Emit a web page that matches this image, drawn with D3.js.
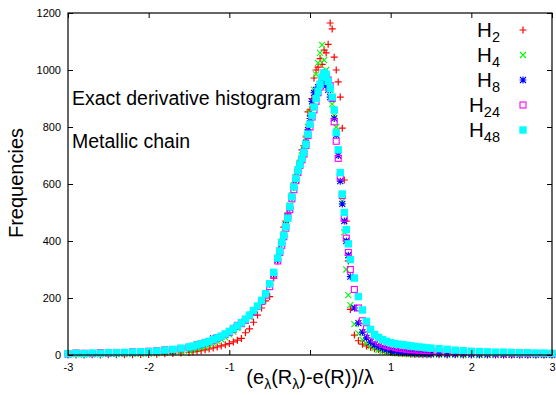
<!DOCTYPE html>
<html><head><meta charset="utf-8">
<script src="https://cdn.jsdelivr.net/npm/d3@7"></script>
<style>body{margin:0;background:#fff}svg{display:block}</style>
</head><body>
<svg id="c" width="556" height="395"></svg>
<script>
// bin centres (x values) shared by all series
const binCenters = [-3.0,-2.9,-2.8,-2.7,-2.6,-2.5,-2.4,-2.3,-2.2,-2.1,-2.0,-1.9,-1.8,-1.7,-1.6,
 -1.5,-1.45,-1.4,-1.35,-1.3,-1.25,-1.2,-1.15,-1.1,-1.05,-1.0,-0.95,-0.9,-0.85,-0.8,-0.75,-0.7,-0.65,-0.6,-0.55,-0.5,-0.45,
 -0.4,-0.375,-0.35,-0.325,-0.3,-0.275,-0.25,-0.225,-0.2,-0.175,-0.15,-0.125,-0.1,-0.075,-0.05,-0.025,0,0.025,0.05,0.075,0.1,0.125,0.15,0.175,0.2,0.225,0.25,0.275,0.3,0.325,0.35,0.375,0.4,0.425,0.45,0.475,0.5,
 0.55,0.6,0.65,0.7,0.75,0.8,0.85,0.9,0.95,1.0,1.05,1.1,1.15,1.2,1.25,1.3,1.35,1.4,1.45,1.5,
 1.6,1.7,1.8,1.9,2.0,2.1,2.2,2.3,2.4,2.5,2.6,2.7,2.8,2.9,3.0];

const freqH2 = [0,0,0,1,0,1,1,1,1,2,2,3,4,5,7,
 9,11,13,15,18,21,25,28,32,36,40,46,52,58,78,92,115,140,165,190,205,270,
 330,370,400,449,470,498,520,560,600,630,650,680,720,735,765,853,860,900,972,1000,1010,1040,1020,1070,1060,1090,1165,1144,1045,1000,958,905,796,614,470,330,160,
 70,50,38,32,27,22,19,17,13,10,8,6,5,4,3,2,2,1,1,1,
 1,0,1,0,0,0,0,0,0,0,0,0,0,0,0];

const freqH4 = [1,2,1,2,2,3,3,3,4,4,5,6,8,10,12,
 15,18,22,26,30,35,42,48,55,62,72,82,95,108,120,135,150,170,192,218,252,290,
 338,368,398,425,458,490,525,560,595,625,652,675,700,725,760,800,850,880,930,985,1025,1060,1088,1035,1000,960,930,880,840,800,720,640,540,430,300,210,175,
 108,76,53,40,30,24,18,14,11,9,7,6,5,4,3,3,2,2,2,1,
 1,1,1,0,1,0,0,0,0,0,0,0,0,0,0];

const freqH8 = [3,5,4,6,5,7,6,8,7,9,10,12,14,17,21,
 25,28,32,36,41,46,58,57,64,72,82,95,100,115,125,140,152,170,190,215,248,285,
 335,362,392,418,455,484,515,552,588,615,645,670,688,715,745,790,830,890,920,930,940,950,960,955,945,930,905,900,830,772,700,610,530,470,400,350,275,
 165,112,80,60,45,36,29,23,19,15,13,11,9,8,7,6,6,5,5,4,
 4,3,3,3,2,2,2,2,1,1,1,1,1,1,1];

const freqH24 = [4,7,6,5,8,7,9,8,11,10,13,15,18,19,23,
 27,30,36,38,44,47,52,61,65,72,80,90,104,110,122,138,150,170,188,210,240,280,
 330,360,385,415,445,485,510,548,580,612,640,665,685,705,735,770,800,835,860,890,920,940,960,990,975,965,945,900,818,750,690,625,560,480,410,360,300,
 230,165,120,92,70,55,45,38,33,29,27,24,22,20,19,18,17,16,15,14,
 13,12,11,10,9,9,8,7,7,6,6,5,5,5,4];

const freqH48 = [5,6,5,7,6,8,8,9,10,11,12,14,17,20,24,
 28,31,35,39,43,48,54,60,66,74,83,92,102,113,126,140,156,172,192,215,250,290,
 340,365,395,420,450,480,520,555,590,620,648,668,690,712,740,775,810,840,870,900,925,950,975,990,985,960,935,905,860,780,720,640,565,500,440,390,335,
 270,205,158,118,90,72,62,54,48,43,40,38,36,34,32,30,28,27,25,24,
 22,20,17,15,13,12,11,10,10,9,8,8,7,7,6];

const seriesSubs = ["2","4","8","24","48"];
const xTicks = [-3,-2,-1,0,1,2,3];
const xTickLabels = ["-3","-2","-1","","1","2","3"];
const yTicks = [0,200,400,600,800,1000,1200];

const series = [
  {sub: seriesSubs[0], vals: freqH2, color: "#ff0000", type: "plus"},
  {sub: seriesSubs[1], vals: freqH4, color: "#00ff00", type: "cross"},
  {sub: seriesSubs[2], vals: freqH8, color: "#0000ff", type: "star"},
  {sub: seriesSubs[3], vals: freqH24, color: "#ff00ff", type: "osq"},
  {sub: seriesSubs[4], vals: freqH48, color: "#00ffff", type: "fsq"}
];

const svg = d3.select("#c");
const L = 68, R = 552, T = 13, B = 355;
const x = d3.scaleLinear().domain([-3,3]).range([L,R]);
const y = d3.scaleLinear().domain([0,1200]).range([B,T]);
const font = "Liberation Sans, Arial, Helvetica, sans-serif";

function marker(g, type, color) {
  if (type === "plus") {
    g.append("path").attr("d","M-3.5,0H3.5M0,-3.5V3.5").attr("stroke",color).attr("stroke-width",1.2).attr("fill","none");
  } else if (type === "cross") {
    g.append("path").attr("d","M-3,-3L3,3M-3,3L3,-3").attr("stroke",color).attr("stroke-width",1.1).attr("fill","none");
  } else if (type === "star") {
    g.append("path").attr("d","M-3.5,0H3.5M0,-3.5V3.5M-3,-3L3,3M-3,3L3,-3").attr("stroke",color).attr("stroke-width",1.1).attr("fill","none");
  } else if (type === "osq") {
    g.append("rect").attr("x",-3).attr("y",-3).attr("width",6).attr("height",6).attr("stroke",color).attr("stroke-width",1.1).attr("fill","none");
  } else {
    g.append("rect").attr("x",-3.7).attr("y",-3.7).attr("width",7.4).attr("height",7.4).attr("fill",color);
  }
}

// data points
series.forEach(s => {
  const g = svg.append("g");
  binCenters.forEach((bx, i) => {
    const p = g.append("g").attr("transform", `translate(${x(bx)},${y(s.vals[i])})`);
    marker(p, s.type, s.color);
  });
});

// frame
svg.append("rect").attr("x",L).attr("y",T).attr("width",R-L).attr("height",B-T)
  .attr("fill","none").attr("stroke","#000").attr("stroke-width",1.2);

// axes (ticks inward, mirrored)
const styleAxis = g => { g.select(".domain").remove(); g.selectAll("line").attr("stroke","#000"); g.selectAll("text").attr("font-family",font).attr("font-size",11).attr("fill","#000"); };
svg.append("g").attr("transform",`translate(0,${B})`)
  .call(d3.axisBottom(x).tickValues(xTicks).tickSize(-5).tickPadding(8).tickFormat((d,i) => xTickLabels[i])).call(styleAxis);
svg.append("g").attr("transform",`translate(0,${T})`)
  .call(d3.axisTop(x).tickValues(xTicks).tickSize(-5).tickFormat("")).call(styleAxis);
svg.append("g").attr("transform",`translate(${L},0)`)
  .call(d3.axisLeft(y).tickValues(yTicks).tickSize(-5).tickPadding(7).tickFormat(d3.format("d"))).call(styleAxis);
svg.append("g").attr("transform",`translate(${R},0)`)
  .call(d3.axisRight(y).tickValues(yTicks).tickSize(-5).tickFormat("")).call(styleAxis);

// annotations
svg.append("text").attr("x",72).attr("y",105).attr("font-family",font).attr("font-size",19.5).text("Exact derivative histogram");
svg.append("text").attr("x",72).attr("y",148).attr("font-family",font).attr("font-size",19.5).text("Metallic chain");

// axis labels
svg.append("text").attr("transform","translate(23,183) rotate(-90)").attr("text-anchor","middle")
  .attr("font-family",font).attr("font-size",20).text("Frequencies");
const xl = svg.append("text").attr("x",310).attr("y",384).attr("text-anchor","middle").attr("font-family",font).attr("font-size",20);
xl.append("tspan").text("(e");
xl.append("tspan").attr("font-size",14).attr("dy",5).text("λ");
xl.append("tspan").attr("dy",-5).text("(R");
xl.append("tspan").attr("font-size",14).attr("dy",5).text("λ");
xl.append("tspan").attr("dy",-5).text(")-e(R))/λ");

// legend
series.forEach((s, i) => {
  const cy = 30 + i * 25;
  const t = svg.append("text").attr("x",500).attr("y",cy + 7).attr("text-anchor","end").attr("font-family",font).attr("font-size",20.5);
  t.append("tspan").text("H");
  t.append("tspan").attr("font-size",14.5).attr("dy",5).text(s.sub);
  const p = svg.append("g").attr("transform",`translate(523,${cy})`);
  marker(p, s.type, s.color);
});
</script>
</body></html>
